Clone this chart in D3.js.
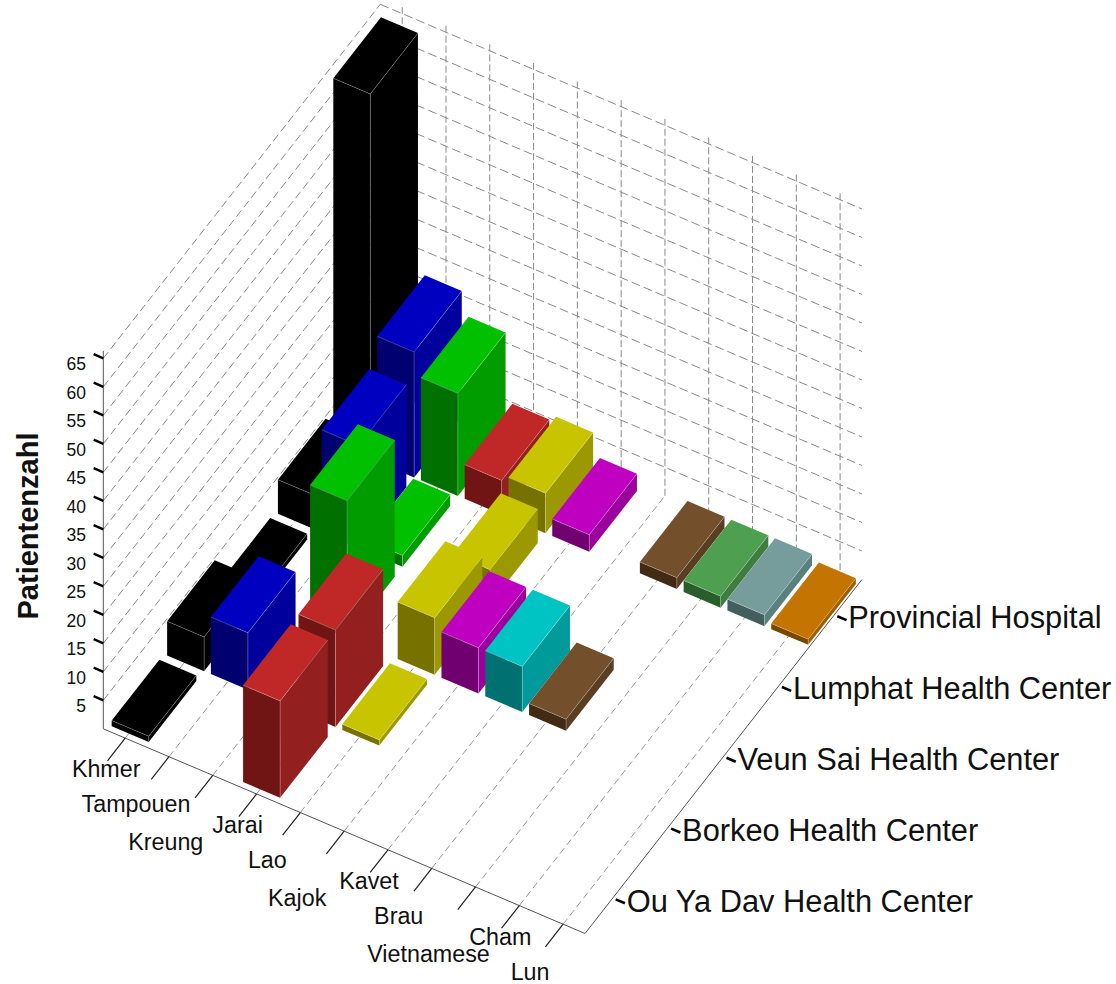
<!DOCTYPE html>
<html>
<head>
<meta charset="utf-8">
<script src="https://cdn.jsdelivr.net/npm/d3@7/dist/d3.min.js"></script>
<style>
  html, body { margin: 0; padding: 0; background: #fff; }
  svg { display: block; }
  text { font-family: "Liberation Sans", Arial, sans-serif; fill: #111; }
  .grid { fill: none; stroke: #8a8a8a; stroke-width: 1; stroke-dasharray: 9 4; }
  .axis-line { fill: none; stroke: #555; stroke-width: 1; }
</style>
</head>
<body>
<svg id="chart" width="1116" height="984"></svg>
<script>
var categories = ["Khmer", "Tampouen", "Kreung", "Jarai", "Lao", "Kajok", "Kavet", "Brau", "Vietnamese", "Cham", "Lun"];
var hospitals = ["Ou Ya Dav Health Center", "Borkeo Health Center", "Veun Sai Health Center", "Lumphat Health Center", "Provincial Hospital"];
var zTicks = [5, 10, 15, 20, 25, 30, 35, 40, 45, 50, 55, 60, 65];

// patients per ethnic group, one list per hospital
var ouYaDav    = [1, 0, 0, 17, 0, 0, 0, 0, 0, 0, 0];
var borkeo     = [6, 10, 0, 17, 1, 0, 0, 0, 0, 0, 0];
var veunSai    = [1, 0, 24, 0, 10, 8, 8, 2, 0, 0, 0];
var lumphat    = [6, 18, 2, 0, 6, 0, 0, 0, 0, 0, 0];
var provincial = [64, 22, 18, 6, 7, 3, 0, 2, 2, 2, 1];
var rowValues = [ouYaDav, borkeo, veunSai, lumphat, provincial];

var topColors   = ["#000000", "#0000c0", "#00c000", "#c02828", "#c8c400", "#c000c0", "#00c4c4", "#734f2b", "#4f9f50", "#769d9b", "#c47400"];
var frontColors = ["#000000", "#000070", "#007000", "#701414", "#777200", "#700070", "#007070", "#412b14", "#2a5d2c", "#425e5d", "#7a4700"];
var sideColors  = ["#000000", "#00009c", "#009c00", "#941f1f", "#9c9800", "#9c009c", "#009a9a", "#5a3e21", "#3e7d40", "#5a807e", "#9e5e00"];

var svg = d3.select("#chart");

// ── Oblique projection ──────────────────────────────────────────────
var ORIGIN_X = 103.3, ORIGIN_Y = 728.8;
var uX = d3.scaleLinear().domain([0, categories.length]).range([0, 481.7]);
var uY = d3.scaleLinear().domain([0, categories.length]).range([0, 204.7]);
var vX = d3.scaleLinear().domain([0, hospitals.length]).range([0, 277]);
var vY = d3.scaleLinear().domain([0, hospitals.length]).range([0, -354]);
var zY = d3.scaleLinear().domain([0, 65]).range([0, -370.5]);

function project(u, v, z) {
  return [ORIGIN_X + uX(u) + vX(v), ORIGIN_Y + uY(u) + vY(v) + zY(z)];
}

var line = d3.line();
var polygon = function (pts) { return line(pts) + "Z"; };

var N = categories.length, M = hospitals.length, Z_TOP = 66.3;

// ── Walls and floor ─────────────────────────────────────────────────
var gridLayer = svg.append("g");

// left wall and back wall levels
gridLayer.selectAll(".wall-left").data(zTicks).enter().append("path")
  .attr("class", "grid")
  .style("stroke-dasharray", "8 4")
  .attr("d", function (z) { return line([project(0, 0, z), project(0, M, z)]); });

gridLayer.selectAll(".wall-back").data(zTicks).enter().append("path")
  .attr("class", "grid")
  .attr("d", function (z) { return line([project(0, M, z), project(N, M, z)]); });

// verticals on the back wall, floor lines running to the front axis
gridLayer.selectAll(".wall-vert").data(categories).enter().append("path")
  .attr("class", "grid")
  .style("stroke-dasharray", "7 3")
  .attr("d", function (d, i) { return line([project(i + 0.5, M, 0), project(i + 0.5, M, Z_TOP)]); });

gridLayer.selectAll(".floor").data(categories).enter().append("path")
  .attr("class", "grid")
  .style("stroke-dasharray", "7 4")
  .style("stroke-width", 0.9)
  .attr("d", function (d, i) { return line([project(i + 0.5, 0, 0), project(i + 0.5, M, 0)]); });

// ── Axes ────────────────────────────────────────────────────────────
var axisLayer = svg.append("g");

axisLayer.append("path").attr("class", "axis-line")
  .attr("d", line([project(0, 0, Z_TOP), project(0, 0, 0), project(N, 0, 0), project(N, M, 0)]));

var zTickDx = uX(-0.22), zTickDy = uY(-0.22);
axisLayer.selectAll(".z-tick").data(zTicks).enter().append("line")
  .attr("x1", function (z) { return project(0, 0, z)[0]; })
  .attr("y1", function (z) { return project(0, 0, z)[1]; })
  .attr("x2", function (z) { return project(0, 0, z)[0] + zTickDx; })
  .attr("y2", function (z) { return project(0, 0, z)[1] + zTickDy; })
  .attr("stroke", "#000").attr("stroke-width", 2.4);

axisLayer.selectAll(".z-label").data(zTicks).enter().append("text")
  .attr("x", 86)
  .attr("y", function (z) { return project(0, 0, z)[1] + 12; })
  .attr("text-anchor", "end")
  .attr("font-size", 17.5)
  .text(function (z) { return z; });

// category ticks follow the row direction, labels are staggered on three levels
var STAGGER_DX = [-19, -33, -47], STAGGER_DY = [39, 55.5, 75];

axisLayer.selectAll(".cat-tick").data(categories).enter().append("line")
  .attr("x1", function (d, i) { return project(i + 0.5, 0, 0)[0]; })
  .attr("y1", function (d, i) { return project(i + 0.5, 0, 0)[1]; })
  .attr("x2", function (d, i) { return project(i + 0.5, -0.32, 0)[0]; })
  .attr("y2", function (d, i) { return project(i + 0.5, -0.32, 0)[1]; })
  .attr("stroke", "#222").attr("stroke-width", 1.2);

axisLayer.selectAll(".cat-label").data(categories).enter().append("text")
  .attr("x", function (d, i) { return project(i + 0.5, 0, 0)[0] + STAGGER_DX[i % 3]; })
  .attr("y", function (d, i) { return project(i + 0.5, 0, 0)[1] + STAGGER_DY[i % 3]; })
  .attr("text-anchor", "middle")
  .attr("font-size", 23.3)
  .text(function (d) { return d; });

axisLayer.selectAll(".row-tick").data(hospitals).enter().append("line")
  .attr("x1", function (d, j) { return project(N, j + 0.5, 0)[0] + 3; })
  .attr("y1", function (d, j) { return project(N, j + 0.5, 0)[1] + 1.3; })
  .attr("x2", function (d, j) { return project(N + 0.28, j + 0.5, 0)[0]; })
  .attr("y2", function (d, j) { return project(N + 0.28, j + 0.5, 0)[1]; })
  .attr("stroke", "#000").attr("stroke-width", 2.6);

axisLayer.selectAll(".row-label").data(hospitals).enter().append("text")
  .attr("x", function (d, j) { return project(N, j + 0.5, 0)[0] + 14; })
  .attr("y", function (d, j) { return project(N, j + 0.5, 0)[1] + 13.5; })
  .attr("font-size", 30.8)
  .text(function (d) { return d; });

svg.append("text")
  .attr("transform", "translate(37.5,526) rotate(-90)")
  .attr("text-anchor", "middle")
  .attr("font-size", 29)
  .attr("font-weight", "bold")
  .text("Patientenzahl");

// ── Bars ────────────────────────────────────────────────────────────
var U0 = 0.11, U1 = 0.955, V0 = 0.065, V1 = 0.925;

// far row first, then left to right, so nearer boxes paint over farther ones
var bars = [];
d3.range(M - 1, -1, -1).forEach(function (j) {
  rowValues[j].forEach(function (value, i) {
    if (value > 0) bars.push({ i: i, j: j, value: value });
  });
});

var bar = svg.append("g").selectAll(".bar").data(bars).enter().append("g").attr("class", "bar");

bar.append("path")
  .attr("fill", function (d) { return frontColors[d.i]; })
  .attr("d", function (d) {
    var a = d.i + U0, b = d.i + U1, c = d.j + V0;
    return polygon([project(a, c, 0), project(b, c, 0), project(b, c, d.value), project(a, c, d.value)]);
  });

bar.append("path")
  .attr("fill", function (d) { return sideColors[d.i]; })
  .attr("d", function (d) {
    var b = d.i + U1, c = d.j + V0, e = d.j + V1;
    return polygon([project(b, c, 0), project(b, e, 0), project(b, e, d.value), project(b, c, d.value)]);
  });

bar.append("path")
  .attr("fill", function (d) { return topColors[d.i]; })
  .attr("d", function (d) {
    var a = d.i + U0, b = d.i + U1, c = d.j + V0, e = d.j + V1;
    return polygon([project(a, c, d.value), project(b, c, d.value), project(b, e, d.value), project(a, e, d.value)]);
  });

// light edges meeting at the near top corner
bar.append("path")
  .attr("fill", "none")
  .attr("stroke", "#fff")
  .attr("stroke-opacity", 0.3)
  .attr("stroke-width", 0.8)
  .attr("d", function (d) {
    var a = d.i + U0, b = d.i + U1, c = d.j + V0, e = d.j + V1;
    return line([project(a, c, d.value), project(b, c, d.value), project(b, e, d.value)]) +
      line([project(b, c, d.value), project(b, c, 0)]);
  });
</script>
</body>
</html>
